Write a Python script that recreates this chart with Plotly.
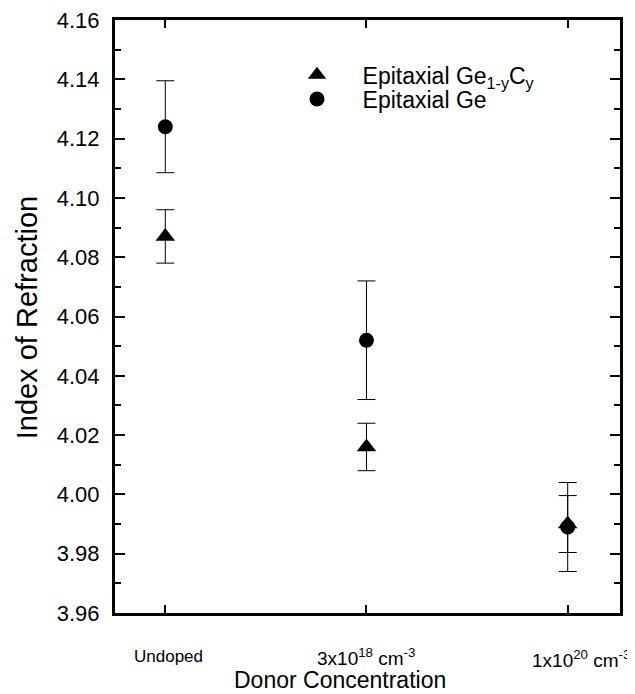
import plotly.graph_objects as go

categories = ["Undoped", "3x10<sup>18</sup> cm<sup>-3</sup>", "1x10<sup>20</sup> cm<sup>-3</sup>"]
x_pos = [0, 1, 2]
gec_values = [4.087, 4.016, 3.990]
gec_errors = [0.009, 0.008, 0.0096]
ge_values = [4.124, 4.052, 3.989]
ge_errors = [0.0155, 0.020, 0.015]
y_ticks = [3.96, 3.98, 4.00, 4.02, 4.04, 4.06, 4.08, 4.10, 4.12, 4.14, 4.16]

FONT = "Liberation Sans, Arial, sans-serif"
PAD = "\u00a0" * 4

fig = go.Figure()
fig.add_trace(go.Scatter(
    x=x_pos, y=gec_values, mode="markers",
    name=PAD + "Epitaxial Ge<sub>1-y</sub>C<sub>y</sub>", legend="legend",
    marker=dict(symbol="triangle-up", size=17, color="black"),
    error_y=dict(type="data", array=gec_errors, color="black", thickness=1, width=9),
))
fig.add_trace(go.Scatter(
    x=x_pos, y=ge_values, mode="markers",
    name=PAD + "Epitaxial Ge", legend="legend2",
    marker=dict(symbol="circle", size=15, color="black"),
    error_y=dict(type="data", array=ge_errors, color="black", thickness=1, width=9),
))

# category labels under the x ticks
label_sizes = [17, 19, 19]
label_shift = [-43, -44, -46]
label_anchor = ["center", "center", "left"]
label_xshift = [3, 0, -38]
for xp, lab, fs, ys, xa, xs in zip(x_pos, categories, label_sizes, label_shift, label_anchor, label_xshift):
    fig.add_annotation(x=xp, y=0, xref="x", yref="paper", text=lab, showarrow=False,
                       font=dict(family=FONT, size=fs, color="black"),
                       xanchor=xa, yanchor="middle", yshift=ys, xshift=xs)

# axis titles
fig.add_annotation(x=0.4455, y=0, xref="paper", yref="paper", text="Donor Concentration",
                   showarrow=False, font=dict(family=FONT, size=23, color="black"),
                   xanchor="center", yanchor="middle", yshift=-67)
fig.add_annotation(x=0, y=0.497, xref="paper", yref="paper", text="Index of Refraction",
                   showarrow=False, textangle=-90, font=dict(family=FONT, size=29, color="black"),
                   xanchor="center", yanchor="middle", xshift=-88)

leg_common = dict(xanchor="left", yanchor="middle", bgcolor="rgba(0,0,0,0)",
                  font=dict(family=FONT, size=23, color="black"))
fig.update_layout(
    width=635, height=694,
    margin=dict(l=107, r=23, t=12, b=89),
    paper_bgcolor="white", plot_bgcolor="white",
    font=dict(family=FONT, color="black"),
    showlegend=True,
    legend=dict(x=0.3604, y=0.9075, **leg_common),
    legend2=dict(x=0.3604, y=0.8668, **leg_common),
    xaxis=dict(range=[-0.25, 2.26], tickvals=x_pos, ticktext=["", "", ""], automargin=False,
               ticks="inside", ticklen=8, tickwidth=2, tickcolor="black",
               showline=True, linewidth=3, linecolor="black", mirror="ticks",
               showgrid=False, zeroline=False),
    yaxis=dict(range=[3.96, 4.16], tickvals=y_ticks, ticktext=[f"{v:.2f}" for v in y_ticks],
               automargin=False, ticklabeloverflow="allow",
               ticks="inside", ticklen=10, tickwidth=2, tickcolor="black",
               minor=dict(dtick=0.01, ticks="inside", ticklen=6, tickwidth=2, tickcolor="black"),
               showline=True, linewidth=3, linecolor="black", mirror="ticks",
               showgrid=False, zeroline=False, ticklabelstandoff=8,
               tickfont=dict(family=FONT, size=22)),
)

fig.write_html("out.html")
